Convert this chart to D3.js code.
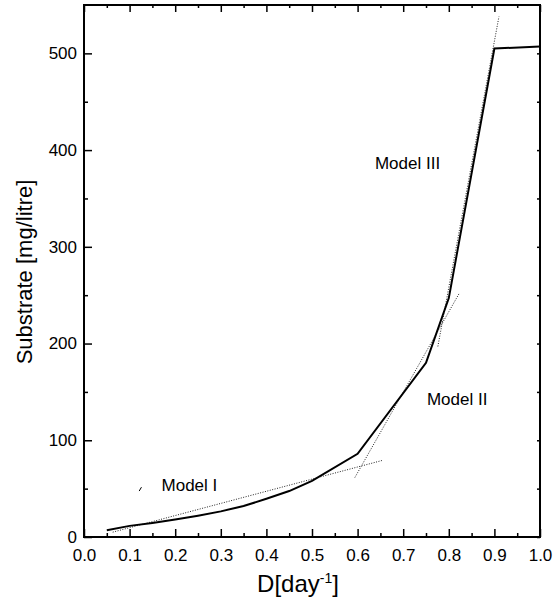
<!DOCTYPE html>
<html>
<head>
<meta charset="utf-8">
<script src="https://cdn.jsdelivr.net/npm/d3@7"></script>
<style>
  body { margin: 0; background: #fff; }
  text { font-family: "Liberation Sans", Arial, sans-serif; fill: #000; }
</style>
</head>
<body>
<div id="chart"></div>
<script>
// Measured curve: dilution rate vs residual substrate
const dilution = [0.05, 0.1, 0.15, 0.2, 0.25, 0.3, 0.35, 0.4, 0.45, 0.5, 0.6, 0.75, 0.8, 0.9, 1.0];
const substrate = [7, 11.5, 14.5, 18, 22, 26.5, 32, 39.5, 47.5, 58, 86, 180, 247, 505, 507];

// Fitted model lines (end points)
const modelI = [[0.063, 5], [0.656, 79.4]];
const modelII = [[0.594, 61.5], [0.823, 252]];
const modelIII = [[0.776, 197], [0.91, 538]];
const stray = [[0.121, 47.5], [0.126, 51.5]];

const labels = [
  { text: "Model I", d: 0.170, s: 47.5 },
  { text: "Model II", d: 0.752, s: 136.5 },
  { text: "Model III", d: 0.638, s: 380 }
];

const xMajor = d3.range(0, 1.0001, 0.1);
const xMinor = d3.range(0.05, 1, 0.1);
const yMajor = [0, 100, 200, 300, 400, 500];
const yMinor = [50, 150, 250, 350, 450];

const W = 554, H = 605;
const margin = { top: 5, right: 14, bottom: 68, left: 84 };
const width = W - margin.left - margin.right;
const height = H - margin.top - margin.bottom;

const svg = d3.select("#chart").append("svg")
  .attr("width", W).attr("height", H);
const g = svg.append("g")
  .attr("transform", `translate(${margin.left},${margin.top})`);

const x = d3.scaleLinear().domain([0, 1]).range([0, width]);
const y = d3.scaleLinear().domain([0, 550]).range([height, 0]);

// bottom axis, ticks pointing in
g.append("g").attr("transform", `translate(0,${height})`)
  .call(d3.axisBottom(x).tickValues(xMajor).tickSize(-8).tickPadding(12)
    .tickFormat(d3.format(".1f")));
g.append("g").attr("transform", `translate(0,${height})`)
  .call(d3.axisBottom(x).tickValues(xMinor).tickSize(-4).tickFormat(""));

// top axis
g.append("g").call(d3.axisTop(x).tickValues(xMajor).tickSize(-7).tickFormat(""));
g.append("g").call(d3.axisTop(x).tickValues(xMinor).tickSize(-3).tickFormat(""));

// left axis
g.append("g")
  .call(d3.axisLeft(y).tickValues(yMajor).tickSize(-8).tickPadding(7));
g.append("g").call(d3.axisLeft(y).tickValues(yMinor).tickSize(-4).tickFormat(""));

// right axis
g.append("g").attr("transform", `translate(${width},0)`)
  .call(d3.axisRight(y).tickValues(yMajor.concat(yMinor)).tickSize(-3).tickFormat(""));

g.selectAll(".domain").remove();
g.selectAll(".tick line").attr("stroke", "#000").attr("stroke-width", 1.5);
g.selectAll(".tick text").style("font-size", "17px").attr("fill", "#000");

// frame
g.append("rect")
  .attr("width", width).attr("height", height)
  .attr("fill", "none").attr("stroke", "#000").attr("stroke-width", 2);

const line = d3.line().x(d => x(d[0])).y(d => y(d[1]));

// dotted model lines
[modelI, modelII, modelIII].forEach(m => {
  g.append("path").datum(m)
    .attr("d", line)
    .attr("fill", "none")
    .attr("stroke", "#222")
    .attr("stroke-width", 1)
    .attr("stroke-dasharray", "1,1.5");
});

g.append("path").datum(stray)
  .attr("d", line).attr("fill", "none")
  .attr("stroke", "#000").attr("stroke-width", 1);

// measured curve
g.append("path")
  .datum(dilution.map((d, i) => [d, substrate[i]]))
  .attr("d", line)
  .attr("fill", "none")
  .attr("stroke", "#000")
  .attr("stroke-width", 2)
  .attr("stroke-linejoin", "miter");

g.selectAll(".model-label").data(labels).enter()
  .append("text")
  .attr("class", "model-label")
  .attr("x", d => x(d.d))
  .attr("y", d => y(d.s))
  .style("font-size", "17px")
  .text(d => d.text);

// axis titles
const xt = svg.append("text")
  .attr("x", 298).attr("y", 592)
  .attr("text-anchor", "middle")
  .style("font-size", "24px");
xt.append("tspan").text("D[day");
xt.append("tspan").attr("dy", -9).style("font-size", "14px").text("-1");
xt.append("tspan").attr("dy", 9).text("]");

svg.append("text")
  .attr("transform", "translate(32,272) rotate(-90)")
  .attr("text-anchor", "middle")
  .style("font-size", "22px")
  .text("Substrate [mg/litre]");
</script>
</body>
</html>
